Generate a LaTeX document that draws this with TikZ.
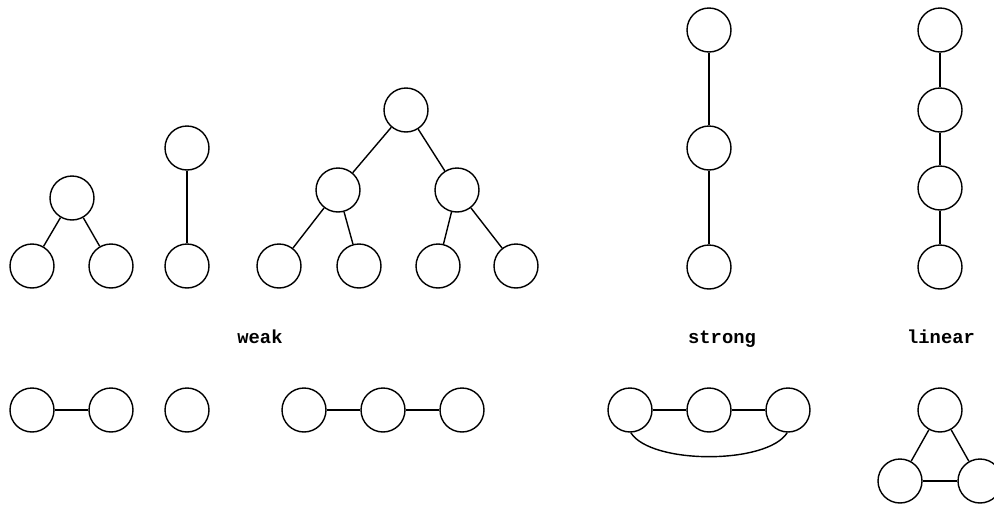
\documentclass[tikz,border=0pt]{standalone}
\usepackage{fontspec}
\setmonofont{Liberation Mono}

\tikzset{
  vertex/.style={circle, draw, line width=0.8pt, minimum size=0.88cm, inner sep=0pt},
  kind/.style={anchor=base, font=\fontsize{10.7}{13}\selectfont\ttfamily\bfseries}
}

\begin{document}
\begin{tikzpicture}[x=0.02cm, y=-0.02cm, line width=0.8pt]
\useasboundingbox (0,0) rectangle (994,504);
\clip (0,0) rectangle (994,504);
% weak: small tree, chain, big tree
\node[vertex] (a1) at (72,198) {};
\node[vertex] (a2) at (32,266) {};
\node[vertex] (a3) at (111,266) {};
\node[vertex] (b1) at (187,148) {};
\node[vertex] (b2) at (187,266) {};
\node[vertex] (c1) at (406,110) {};
\node[vertex] (c2) at (338,190) {};
\node[vertex] (c3) at (457,190) {};
\node[vertex] (c4) at (279,266) {};
\node[vertex] (c5) at (359,266) {};
\node[vertex] (c6) at (438,266) {};
\node[vertex] (c7) at (516,266) {};
% strong and linear columns
\foreach \n/\y in {1/30,2/148,3/267} {
    \node[vertex] (d\n) at (709,\y) {};
}
\foreach \n/\y in {1/30,2/110,3/188,4/267} {
    \node[vertex] (e\n) at (940,\y) {};
}
% labels
\node[kind] (weak) at (260,343) {weak};
\node[kind] (strong) at (722,343) {strong};
\node[kind] (linear) at (941,343) {linear};
% bottom row
\node[vertex] (f1) at (32,410) {};
\node[vertex] (f2) at (111,410) {};
\node[vertex] (f3) at (187,410) {};
\node[vertex] (g1) at (304,410) {};
\node[vertex] (g2) at (383,410) {};
\node[vertex] (g3) at (462,410) {};
\node[vertex] (h1) at (630,410) {};
\node[vertex] (h2) at (709,410) {};
\node[vertex] (h3) at (788,410) {};
\node[vertex] (k1) at (940,410) {};
\node[vertex] (k2) at (900,481) {};
\node[vertex] (k3) at (980,481) {};
\foreach \a/\b in {a1/a2,a1/a3,b1/b2,c1/c2,c1/c3,c2/c4,c2/c5,c3/c6,c3/c7,
                   d1/d2,d2/d3,e1/e2,e2/e3,e3/e4,f1/f2,g1/g2,g2/g3,
                   h1/h2,h2/h3,k1/k2,k1/k3,k2/k3} {
    \draw (\a) -- (\b);
}
\draw (h1.-88) .. controls +(20,32) and +(-20,32) .. (h3.-92);
\end{tikzpicture}
\end{document}
